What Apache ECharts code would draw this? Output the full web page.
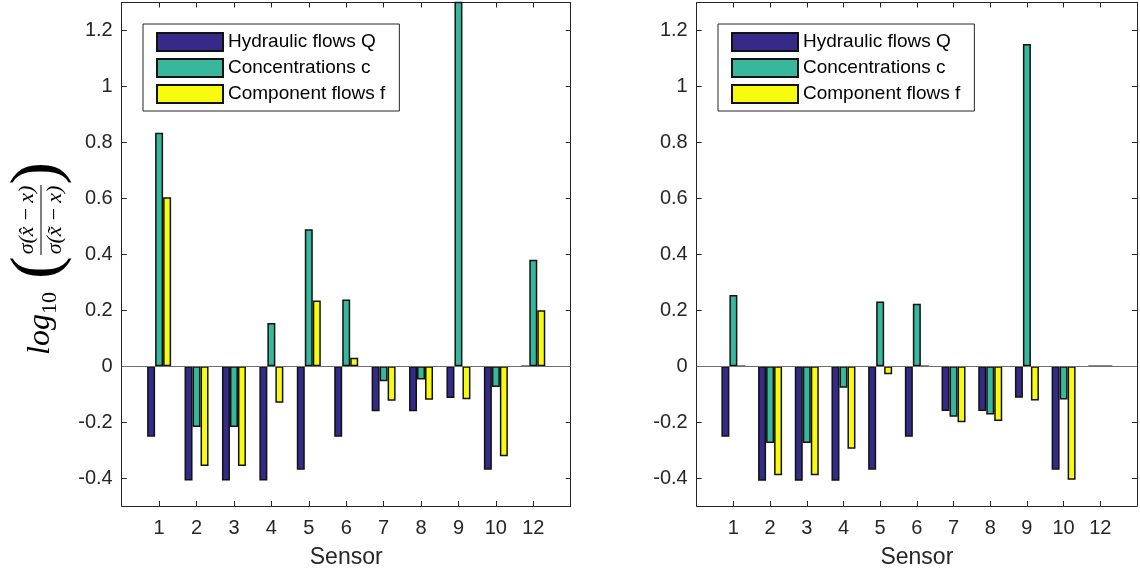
<!DOCTYPE html>
<html>
<head>
<meta charset="utf-8">
<script src="https://cdn.jsdelivr.net/npm/echarts@6/dist/echarts.min.js"></script>
<style>html,body{margin:0;padding:0;background:#fff;}#c{width:1140px;height:574px;}</style>
</head>
<body>
<div id="c"></div>
<script>
const categories = ['1','2','3','4','5','6','7','8','9','10','12'];
const seriesNames = ['Hydraulic flows Q', 'Concentrations c', 'Component flows f'];
const leftQ = [-0.252,-0.409,-0.409,-0.409,-0.370,-0.252,-0.161,-0.161,-0.114,-0.370,0];
const leftC = [0.834,-0.218,-0.218,0.154,0.489,0.238,-0.054,-0.048,1.45,-0.075,0.380];
const leftF = [0.604,-0.357,-0.357,-0.131,0.235,0.030,-0.124,-0.120,-0.118,-0.322,0.200];
const rightQ = [-0.252,-0.410,-0.410,-0.410,-0.370,-0.252,-0.160,-0.160,-0.113,-0.370,0];
const rightC = [0.254,-0.275,-0.275,-0.077,0.231,0.223,-0.181,-0.173,1.152,-0.119,0];
const rightF = [0,-0.390,-0.390,-0.295,-0.029,0,-0.201,-0.196,-0.123,-0.406,0];
const yTicks = [-0.4,-0.2,0,0.2,0.4,0.6,0.8,1,1.2];
const colors = ['#352A87', '#37B89D', '#F9FB0E'];

const FONT = '"Liberation Sans", Arial, Helvetica, sans-serif';
const SERIF = '"Liberation Serif", "Times New Roman", serif';
const AX = '#262626';
const axisCats = [''].concat(categories, ['']);
const pad = a => [null].concat(a, [null]);

const grids = [
  {left: 121.7, top: 2.5, width: 449, height: 504.2},
  {left: 696.7, top: 2.5, width: 449, height: 504.2}
];

const xAxes = [], yAxes = [];
grids.forEach((g, gi) => {
  const lineStyle = {color: AX, width: 1};
  xAxes.push({
    type: 'category', gridIndex: gi, data: axisCats, boundaryGap: false, position: 'bottom',
    axisLine: {show: true, onZero: false, lineStyle}, axisTick: {show: true, inside: true, length: 5, lineStyle},
    axisLabel: {show: true, fontSize: 20, color: AX, fontFamily: FONT, margin: 12},
    splitLine: {show: false},
    name: 'Sensor', nameLocation: 'middle', nameGap: 40,
    nameTextStyle: {fontSize: 23, color: AX, fontFamily: FONT}
  });
  xAxes.push({
    type: 'category', gridIndex: gi, data: axisCats, boundaryGap: false, position: 'top',
    axisLine: {show: true, onZero: false, lineStyle}, axisTick: {show: true, inside: true, length: 5, lineStyle},
    axisLabel: {show: false}, splitLine: {show: false}
  });
  yAxes.push({
    type: 'value', gridIndex: gi, min: -0.5, max: 1.3, position: 'left',
    axisLine: {show: true, onZero: false, lineStyle},
    axisTick: {show: true, inside: true, length: 5, lineStyle, customValues: yTicks},
    axisLabel: {show: true, fontSize: 20, color: AX, fontFamily: FONT, margin: 9, customValues: yTicks},
    splitLine: {show: false}
  });
  yAxes.push({
    type: 'value', gridIndex: gi, min: -0.5, max: 1.3, position: 'right',
    axisLine: {show: true, onZero: false, lineStyle},
    axisTick: {show: true, inside: true, length: 5, lineStyle, customValues: yTicks},
    axisLabel: {show: false, customValues: yTicks},
    splitLine: {show: false}
  });
});

const dataSets = [[leftQ, leftC, leftF], [rightQ, rightC, rightF]];
const series = [];
dataSets.forEach((set, gi) => {
  set.forEach((vals, si) => {
    const s = {
      type: 'bar', name: seriesNames[si],
      xAxisIndex: gi * 2, yAxisIndex: gi * 2,
      data: pad(vals), barWidth: 8, barGap: '0%', clip: true,
      itemStyle: {color: colors[si], borderColor: '#111', borderWidth: 1.5},
      emphasis: {disabled: true}
    };
    if (si === 0) {
      s.markLine = {
        silent: true, symbol: ['none', 'none'], label: {show: false},
        lineStyle: {color: '#6e6e6e', width: 1, type: 'solid'},
        data: [{yAxis: 0}], animation: false
      };
    }
    series.push(s);
  });
});

const legendBase = {
  orient: 'vertical', top: 24, icon: 'rect', itemWidth: 66, itemHeight: 18, itemGap: 6,
  padding: [8, 14, 7, 13], borderColor: AX, borderWidth: 1, backgroundColor: '#fff',
  textStyle: {fontSize: 19, color: '#000', fontFamily: FONT},
  data: seriesNames, selectedMode: false
};

const T = '\u2009';
const graphic = [{
  type: 'group', x: 41, y: 259, rotation: Math.PI / 2,
  children: [
    {type: 'text', x: -96, y: 0, style: {text: 'log', font: 'italic 32px ' + SERIF, fill: '#000', align: 'left', verticalAlign: 'middle', textAlign: 'left', textVerticalAlign: 'middle'}},
    {type: 'text', x: -55, y: 9, style: {text: '10', font: '22px ' + SERIF, fill: '#000', align: 'left', verticalAlign: 'middle', textAlign: 'left', textVerticalAlign: 'middle'}},
    {type: 'text', x: -20, y: -2, style: {text: '(', font: '68px ' + SERIF, fill: '#000', align: 'left', verticalAlign: 'middle', textAlign: 'left', textVerticalAlign: 'middle'}},
    {type: 'text', x: 97, y: -2, style: {text: ')', font: '68px ' + SERIF, fill: '#000', align: 'right', verticalAlign: 'middle', textAlign: 'right', textVerticalAlign: 'middle'}},
    {type: 'line', shape: {x1: 4, y1: 0, x2: 74, y2: 0}, style: {stroke: '#000', lineWidth: 1}},
    {type: 'text', x: 39, y: -14, style: {text: 'σ(x\u0302' + T + '−' + T + 'x)', font: 'italic 22px ' + SERIF, fill: '#000', align: 'center', verticalAlign: 'middle', textAlign: 'center', textVerticalAlign: 'middle'}},
    {type: 'text', x: 39, y: 14, style: {text: 'σ(x\u0303' + T + '−' + T + 'x)', font: 'italic 22px ' + SERIF, fill: '#000', align: 'center', verticalAlign: 'middle', textAlign: 'center', textVerticalAlign: 'middle'}}
  ]
}];

const chart = echarts.init(document.getElementById('c'), null, {renderer: 'canvas'});
chart.setOption({
  animation: false,
  backgroundColor: '#fff',
  grid: grids,
  xAxis: xAxes,
  yAxis: yAxes,
  legend: [
    Object.assign({}, legendBase, {left: 143}),
    Object.assign({}, legendBase, {left: 718})
  ],
  graphic: graphic,
  series: series
});
</script>
</body>
</html>
